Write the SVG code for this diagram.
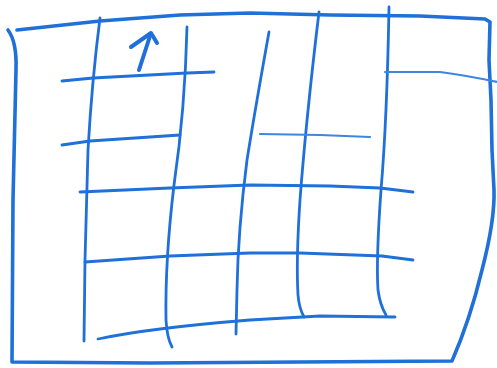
<svg xmlns="http://www.w3.org/2000/svg" width="497" height="368" viewBox="0 0 497 368">
<style>
.s{fill:none;stroke:#1f70d8;stroke-linecap:round;stroke-linejoin:round}
.o{stroke-width:3.6}
.g{stroke-width:2.8}
.t{stroke-width:2.2;stroke:#3f86e0}
</style>
<rect width="497" height="368" fill="#ffffff"/>
<g id="frame">
<path class="s o" d="M8,30 Q17,42 16,70 L13,200 L12,362 L150,363 L300,362 L452,361 Q470,320 482,270 Q495,220 494,190 L492,150 L491,100 L489,60 L490,22 L485,19 L420,16 L330,15 L250,13 L180,15 L100,21 L17,30"/>
</g>
<g id="verticals">
<path class="s g" d="M100,18 Q92,80 88,150 L85,260 L84,341"/>
<path class="s g" d="M187,27 Q185,110 174,185 Q165,260 166,320 Q167,338 172,347"/>
<path class="s g" d="M269,32 Q255,110 247,160 Q238,230 237,290 L236,334"/>
<path class="s g" d="M319,12 Q306,120 300,200 Q296,260 298,295 Q299,308 304,317"/>
<path class="s g" d="M389,7 Q387,120 381,190 Q376,260 378,290 Q380,305 386,315"/>
</g>
<g id="horizontals">
<path class="s g" d="M62,81 L93,78 L187,73 L214,72"/>
<path class="s t" d="M385,72 L440,72 Q470,76 497,82"/>
<path class="s g" d="M62,145 L90,141 L180,135"/>
<path class="s t" d="M260,134 L320,135 L370,137"/>
<path class="s g" d="M80,192 L170,188 L250,185 L330,186 L380,188 L413,192"/>
<path class="s g" d="M85,262 L170,256 L250,253 L300,253 L382,256 L413,260"/>
<path class="s g" d="M98,339 Q150,328 250,320 L320,316 L395,317"/>
</g>
<g id="arrow">
<path class="s" stroke-width="4" d="M139,70 L150,36"/>
<path class="s" stroke-width="4" d="M131,47 L151,33 L157,43"/>
</g>
</svg>
